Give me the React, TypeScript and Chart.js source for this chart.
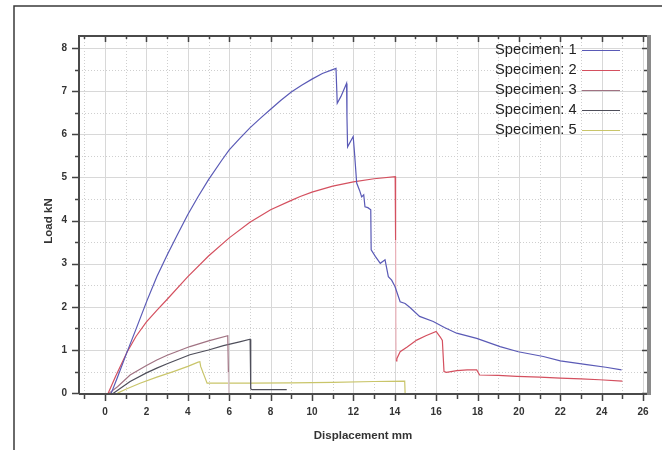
import React, { useEffect, useRef } from "react";
import { Chart, registerables } from "chart.js";

Chart.register(...registerables);

// ---- axis settings / tick labels ----
const X_TICKS = [0, 2, 4, 6, 8, 10, 12, 14, 16, 18, 20, 22, 24, 26];
const Y_TICKS = [0, 1, 2, 3, 4, 5, 6, 7, 8];
const X_MIN = -1.26;
const X_MAX = 26.19;
const Y_MIN = -0.02;
const Y_MAX = 8.28;
const X_MINOR = 1;
const Y_MINOR = 0.5;
const X_TITLE = "Displacement mm";
const Y_TITLE = "Load kN";

// ---- series ----
const LABELS = ["Specimen: 1", "Specimen: 2", "Specimen: 3", "Specimen: 4", "Specimen: 5"];
const COLORS = ["#5a5ab6", "#d4505f", "#a07282", "#4e4e5a", "#c9c56a"];
const FADED = ["#5a5ab6", "#eab0b8", "#d8c4ca", "#4e4e5a", "#c9c56a"];

const spec1X = [0.3, 0.6, 1.06, 1.5, 2.03, 2.5, 3, 3.5, 4, 4.5, 5, 5.64, 6, 6.5, 7, 7.5, 8, 8.5, 9, 9.5, 10, 10.5, 11, 11.16, 11.22, 11.4, 11.67, 11.69, 11.72, 11.99, 12.05, 12.16, 12.3, 12.4, 12.5, 12.56, 12.7, 12.84, 12.86, 13.06, 13.3, 13.53, 13.69, 13.85, 14.01, 14.26, 14.5, 14.75, 15.2, 15.86, 16.4, 16.99, 17.96, 19.09, 19.97, 21.18, 22.0, 23.28, 24.2, 24.96];
const spec1Y = [0, 0.37, 0.95, 1.49, 2.15, 2.7, 3.2, 3.68, 4.14, 4.56, 4.95, 5.4, 5.64, 5.9, 6.15, 6.37, 6.58, 6.79, 6.98, 7.14, 7.28, 7.41, 7.5, 7.53, 6.72, 6.88, 7.18, 6.4, 5.71, 5.95, 5.6, 4.87, 4.7, 4.55, 4.6, 4.32, 4.3, 4.25, 3.32, 3.17, 3.01, 3.09, 2.7, 2.62, 2.47, 2.12, 2.08, 1.98, 1.78, 1.66, 1.52, 1.39, 1.27, 1.08, 0.96, 0.85, 0.75, 0.66, 0.6, 0.54];

const spec2X = [0.15, 0.5, 1.06, 1.5, 2, 2.5, 2.97, 4, 5, 6, 7, 8, 9, 9.43, 10, 11, 12, 13, 14.02, 14.04, 14.06, 14.1, 14.26, 14.6, 15.06, 15.5, 16.0, 16.2, 16.3, 16.38, 16.5, 17.0, 17.5, 17.96, 18.1, 19, 19.9, 21, 22, 23, 23.9, 25];
const spec2Y = [0, 0.38, 0.95, 1.32, 1.65, 1.92, 2.16, 2.7, 3.18, 3.6, 3.96, 4.25, 4.47, 4.56, 4.66, 4.8, 4.9, 4.97, 5.02, 3.55, 0.75, 0.8, 0.96, 1.07, 1.23, 1.33, 1.43, 1.3, 1.22, 0.5, 0.48, 0.52, 0.54, 0.54, 0.42, 0.41, 0.39, 0.37, 0.35, 0.33, 0.31, 0.28];

const spec3X = [0.2, 0.6, 1.21, 2, 2.5, 3, 4.1, 5, 5.93, 5.96, 5.98];
const spec3Y = [0, 0.15, 0.42, 0.64, 0.77, 0.88, 1.08, 1.21, 1.33, 0.48, 0];

const spec4X = [0.4, 1.21, 2, 2.5, 3, 4.1, 5, 5.72, 6.5, 7.01, 7.04, 7.1, 8.78];
const spec4Y = [0, 0.27, 0.47, 0.58, 0.68, 0.89, 1.0, 1.1, 1.19, 1.25, 0.1, 0.08, 0.08];

const spec5X = [0.6, 1.0, 1.69, 2.5, 3.3, 4.0, 4.5, 4.58, 4.62, 4.93, 5.5, 7, 9, 11, 13, 14.48, 14.5];
const spec5Y = [0, 0.09, 0.23, 0.37, 0.5, 0.62, 0.72, 0.73, 0.62, 0.23, 0.23, 0.23, 0.24, 0.25, 0.27, 0.28, 0];

const SERIES_X = [spec1X, spec2X, spec3X, spec4X, spec5X];
const SERIES_Y = [spec1Y, spec2Y, spec3Y, spec4Y, spec5Y];
// index of segments drawn in a paler tone (faint vertical drop lines)
const FADED_SEGMENTS: number[][] = [[], [19], [9], [], []];

const FONT = "'Liberation Sans', Arial, Helvetica, sans-serif";

const framePlugin = {
  id: "framePlugin",
  beforeDatasetsDraw(chart: any) {
    const { ctx, chartArea: a, scales } = chart;
    const x = scales.x;
    const y = scales.y;
    ctx.save();
    ctx.lineWidth = 1;
    for (let v = Math.ceil(X_MIN / X_MINOR) * X_MINOR; v <= X_MAX; v += X_MINOR) {
      const major = Math.round(v) % 2 === 0;
      const px = Math.round(x.getPixelForValue(v)) + 0.5;
      ctx.beginPath();
      ctx.strokeStyle = major ? "#d8d8d8" : "#cfcfcf";
      ctx.setLineDash(major ? [] : [1, 2]);
      ctx.moveTo(px, a.top);
      ctx.lineTo(px, a.bottom);
      ctx.stroke();
    }
    for (let v = Math.ceil(Y_MIN / Y_MINOR) * Y_MINOR; v <= Y_MAX; v += Y_MINOR) {
      const major = Math.abs(v - Math.round(v)) < 1e-6;
      const py = Math.round(y.getPixelForValue(v)) + 0.5;
      ctx.beginPath();
      ctx.strokeStyle = major ? "#d8d8d8" : "#cfcfcf";
      ctx.setLineDash(major ? [] : [1, 2]);
      ctx.moveTo(a.left, py);
      ctx.lineTo(a.right, py);
      ctx.stroke();
    }
    ctx.restore();
  },
  afterDraw(chart: any) {
    const { ctx, chartArea: a, scales } = chart;
    const x = scales.x;
    const y = scales.y;
    ctx.save();
    ctx.setLineDash([]);
    // ticks
    ctx.strokeStyle = "#444";
    ctx.lineWidth = 1.5;
    for (let v = Math.ceil(X_MIN); v <= X_MAX; v += X_MINOR) {
      const major = Math.round(v) % 2 === 0;
      const px = Math.round(x.getPixelForValue(v)) + 0.5;
      ctx.beginPath();
      ctx.moveTo(px, a.bottom);
      ctx.lineTo(px, a.bottom + (major ? 7 : 5));
      ctx.moveTo(px, a.top);
      ctx.lineTo(px, a.top + (major ? 6 : 3));
      ctx.stroke();
    }
    for (let v = Math.ceil(Y_MIN / Y_MINOR) * Y_MINOR; v <= Y_MAX; v += Y_MINOR) {
      const major = Math.abs(v - Math.round(v)) < 1e-6;
      const py = Math.round(y.getPixelForValue(v)) + 0.5;
      ctx.beginPath();
      ctx.moveTo(a.left, py);
      ctx.lineTo(a.left - (major ? 7 : 4), py);
      ctx.moveTo(a.right, py);
      ctx.lineTo(a.right - (major ? 5 : 3), py);
      ctx.stroke();
    }
    // plot frame
    ctx.strokeStyle = "#4a4a4a";
    ctx.lineWidth = 2;
    ctx.beginPath();
    ctx.moveTo(a.left, a.bottom);
    ctx.lineTo(a.left, a.top);
    ctx.lineTo(a.right, a.top);
    ctx.moveTo(a.left, a.bottom);
    ctx.lineTo(a.right, a.bottom);
    ctx.stroke();
    ctx.fillStyle = "#8a8a8a";
    ctx.fillRect(a.right, a.top - 1, 4, a.bottom - a.top + 2);

    // legend
    const ds = chart.data.datasets;
    ctx.font = `14.7px ${FONT}`;
    ctx.textAlign = "left";
    ctx.textBaseline = "middle";
    ds.forEach((d: any, i: number) => {
      const ly = a.top + 14 + i * 20;
      ctx.fillStyle = "#222";
      ctx.fillText(d.label, 495, ly);
      ctx.strokeStyle = d.borderColor;
      ctx.lineWidth = 1.2;
      ctx.beginPath();
      ctx.moveTo(582, ly + 0.5);
      ctx.lineTo(620, ly + 0.5);
      ctx.stroke();
    });

    // axis titles
    ctx.fillStyle = "#333";
    ctx.font = `bold 11.5px ${FONT}`;
    ctx.textAlign = "center";
    ctx.textBaseline = "middle";
    ctx.fillText(X_TITLE, (a.left + a.right) / 2, 436);
    ctx.save();
    ctx.translate(49, (a.top + a.bottom) / 2 + 6);
    ctx.rotate(-Math.PI / 2);
    ctx.fillText(Y_TITLE, 0, 0);
    ctx.restore();

    // outer border
    ctx.strokeStyle = "#3a3a3a";
    ctx.lineWidth = 1.5;
    ctx.beginPath();
    ctx.moveTo(14, chart.height);
    ctx.lineTo(14, 6);
    ctx.lineTo(chart.width, 6);
    ctx.stroke();
    ctx.restore();
  },
};

export default function App() {
  const ref = useRef<HTMLCanvasElement | null>(null);
  useEffect(() => {
    if (!ref.current) return;
    const datasets = LABELS.map((label, i) => ({
      label,
      data: SERIES_X[i].map((xv, j) => ({ x: xv, y: SERIES_Y[i][j] })),
      borderColor: COLORS[i],
      backgroundColor: COLORS[i],
      borderWidth: 1.2,
      pointRadius: 0,
      showLine: true,
      fill: false,
      tension: 0,
      segment: {
        borderColor: (c: any) =>
          FADED_SEGMENTS[i].includes(c.p0DataIndex) ? FADED[i] : COLORS[i],
      },
    }));
    const chart = new Chart(ref.current, {
      type: "scatter",
      data: { datasets },
      options: {
        responsive: false,
        animation: false,
        devicePixelRatio: 1,
        layout: { padding: { top: 36, right: 15, left: 0, bottom: 0 } },
        plugins: { legend: { display: false }, tooltip: { enabled: false } },
        scales: {
          x: {
            type: "linear",
            min: X_MIN,
            max: X_MAX,
            grid: { display: false, drawTicks: false },
            border: { display: false },
            afterBuildTicks: (s: any) => {
              s.ticks = X_TICKS.map((v) => ({ value: v }));
            },
            afterFit: (s: any) => {
              s.height = 56;
            },
            ticks: {
              padding: 12,
              autoSkip: false,
              maxRotation: 0,
              color: "#333",
              font: { family: FONT, size: 10, weight: "bold" },
              callback: (v: any) => String(v),
            },
          },
          y: {
            type: "linear",
            min: Y_MIN,
            max: Y_MAX,
            grid: { display: false, drawTicks: false },
            border: { display: false },
            afterBuildTicks: (s: any) => {
              s.ticks = Y_TICKS.map((v) => ({ value: v }));
            },
            afterFit: (s: any) => {
              s.width = 79;
            },
            ticks: {
              padding: 12,
              autoSkip: false,
              color: "#333",
              font: { family: FONT, size: 10, weight: "bold" },
              callback: (v: any) => String(v),
            },
          },
        },
      },
      plugins: [framePlugin],
    } as any);
    return () => chart.destroy();
  }, []);
  return (
    <div style={{ position: "fixed", left: 0, top: 0, width: 662, height: 450, background: "#fff" }}>
      <canvas ref={ref} width={662} height={450} style={{ display: "block", width: 662, height: 450 }} />
    </div>
  );
}
